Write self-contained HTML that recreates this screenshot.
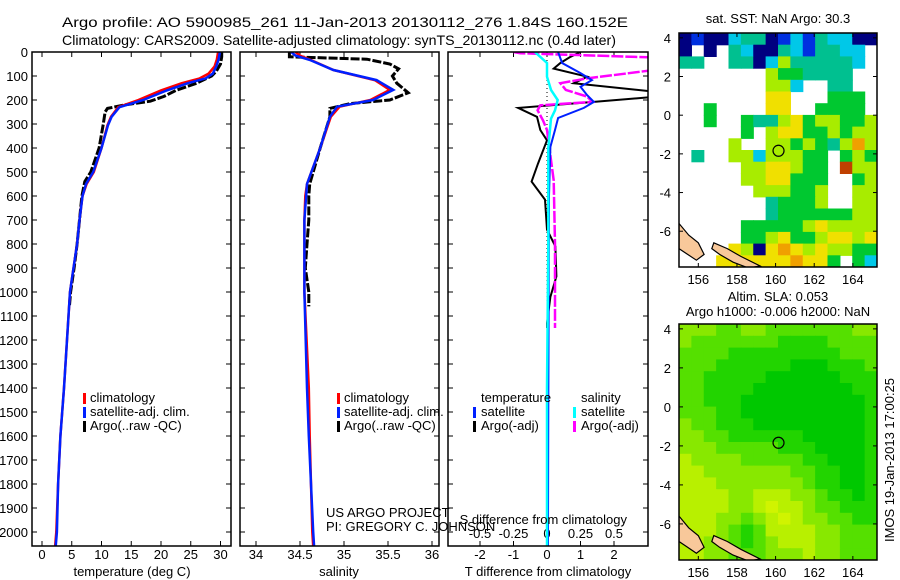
<!DOCTYPE html>
<html><head><meta charset="utf-8">
<style>
html,body{margin:0;padding:0;background:#fff;}
svg{display:block;font-family:"Liberation Sans",sans-serif;}
</style></head>
<body>
<svg id="chart" width="900" height="580" viewBox="0 0 900 580" xmlns="http://www.w3.org/2000/svg">
<text x="62" y="27" font-size="14" textLength="566" lengthAdjust="spacingAndGlyphs">Argo profile: AO 5900985_261 11-Jan-2013 20130112_276 1.84S 160.152E</text>
<text x="62" y="45" font-size="14" textLength="554" lengthAdjust="spacingAndGlyphs">Climatology: CARS2009. Satellite-adjusted climatology: synTS_20130112.nc (0.4d later)</text>
<g id="g"></g>
</svg>
<script>
// ---------- data ----------
const depthTicks=[0,100,200,300,400,500,600,700,800,900,1000,1100,1200,1300,1400,1500,1600,1700,1800,1900,2000];
const tTicks=[0,5,10,15,20,25,30];
const sTicks=[34,34.5,35,35.5,36];
const dTTicks=[-2,-1,0,1,2];
const dSTicks=[-0.5,-0.25,0,0.25,0.5];
const dSTickLabels=["-0.5","-0.25","0","0.25","0.5"];

const tSatDepth=[0,30,60,90,110,130,160,200,230,270,305,400,500,550,600,700,800,900,1000,1200,1400,1600,1800,2000,2060];
const tSatVal=[29.9,29.7,29.3,28.7,27.5,24.5,21,17,13,11.7,11.1,10,8.6,7.4,6.8,6.3,5.9,5.3,4.7,4.2,3.7,3.1,2.7,2.5,2.3];
const tClimDepth=[0,30,60,90,110,130,160,200,230,270,305,400,500,550,600,700,800,900,1000,1200,1400,1600,1800,2000,2060];
const tClimVal=[29.6,29.4,29.0,28.0,26.5,23.5,20,16.2,12.8,11.6,11.0,10,8.7,7.5,6.8,6.3,5.9,5.3,4.7,4.2,3.7,3.1,2.7,2.4,2.2];
const tArgoDepth=[0,20,50,80,100,130,160,185,205,220,235,250,300,400,500,540,600,700,800,900,1000,1060];
const tArgoVal=[30.2,30.2,30.0,29.3,28.5,26,22.5,20.5,18.2,14,11,10.6,10.3,9.6,8.2,7.2,6.7,6.3,5.9,5.4,4.8,4.6];

const sSatDepth=[0,15,33,75,117,158,200,228,270,400,500,550,700,1000,1400,1600,2000,2060];
const sSatVal=[34.4,34.45,34.61,34.88,35.37,35.56,35.33,34.92,34.84,34.73,34.63,34.58,34.55,34.55,34.58,34.6,34.65,34.66];
const sClimDepth=[0,15,33,75,117,158,200,228,270,400,500,550,600,700,1000,1400,1600,2000,2060];
const sClimVal=[34.45,34.5,34.62,34.88,35.35,35.52,35.3,34.95,34.85,34.73,34.63,34.58,34.56,34.55,34.55,34.6,34.61,34.64,34.65];
const sArgoDepth=[0,20,30,50,70,100,130,170,200,215,235,270,400,550,600,700,800,900,1000,1060];
const sArgoVal=[34.38,34.38,35.26,35.52,35.62,35.55,35.6,35.73,35.52,35.07,34.84,34.84,34.73,34.61,34.6,34.6,34.58,34.56,34.6,34.6];

const dTSatDepth=[0,46,88,117,145,180,208,233,275,325,395,600,1000,1500,2000,2060];
const dTSatVal=[0.33,0.45,1.0,1.34,1.0,1.2,1.4,1.1,0.33,0.24,0.1,0.06,0.05,0.04,0.03,0.03];
const dTArgoDepth=[0,20,46,69,103,130,165,187,208,233,270,325,368,465,540,615,740,810,935,1020,1130,1150];
const dTArgoVal=[1.0,0.7,0.4,0.2,1.2,0.8,3.2,3.2,1.4,-0.86,-0.3,-0.2,0,-0.27,-0.46,-0.06,0.0,0.25,0.28,0.1,0.0,0.0];
const dSSatDepth=[0,46,103,158,200,243,278,400,800,1400,2000,2060];
const dSSatVal=[-0.09,0,0,0.03,0.08,0.06,0.03,0.01,0.01,0.0,0.0,0.0];
const dSArgoDepth=[0,5,23,46,75,110,130,158,186,208,222,243,285,325,535,800,1000,1150];
const dSArgoVal=[-0.25,-0.2,0.8,0.8,0.8,0.3,0.1,0.14,0.3,0.34,-0.05,-0.07,-0.03,0,0.05,0.06,0.06,0.06];

const lonTicks=[156,158,160,162,164];
const sstLatTicks=[4,2,0,-2,-4,-6];
const argoLon=160.152, argoLat=-1.84;
const sstColors={N:"#000080",B:"#0030e0",C:"#00c8e8",T:"#00c090",G:"#00c830",L:"#a8ec00",Y:"#f0e000",O:"#f0a000",R:"#c04000"};
const sstGrid=[
"NBNNCTTNBCBTCCNN","NWNWTCNNTCBTTCCW","TTWWTTNCLTTTTTCW","WWWWWWWLGGTTTTWW","WWWWWWWLLCWWTTWW",
"WWWWWWWYYWWWGGGW","WWGWWWWYYWWGGGGW","WWGWWGTTLYGLLGGL","WWWWWGWLYYGGLGLL","WWWWLWWLLGLGTLOL",
"WTWWLLCLLLGGWGLG","WWWWWLLYYLGGWRLL","WWWWWLLYYGGGWWGL","WWWWWWLLLGGLWWLL","WWWWWWWTGGGLWWLL",
"WWWWWWWTGGGGGGLL","WWWWWGGGGGLYLLLL","WWWWWGGLYGGLYYLY","WWWWYLNYOYLYLLGG","WWWYYYYYYOYYGWGC"];
const slaColors=["#00c800","#22d400","#55e000","#88e800","#b8f000","#d0f400"];
const slaGrid=[
"3332233222222233","3222222211112222","2222111111111222","2221111110001112","2211111000000111",
"2211110000000011","2211100000000001","2221100000000001","3221110000000001","3322111111000001",
"3332222211100001","4333322222110001","4433333332211001","4443333333211001","4444334443321101",
"4444334544322111","4443323454332211","4443212444433222","4433212344433222","4433222333433222"];

// ---------- helpers ----------
const NS="http://www.w3.org/2000/svg";
const G=document.getElementById('g');
function el(t,a,p){const e=document.createElementNS(NS,t);for(const k in a)e.setAttribute(k,a[k]);(p||G).appendChild(e);return e;}
const yD=d=>52+d*0.24;
const P1={x0:32,x1:231}, P2={x0:240,x1:439}, P3={x0:448,x1:648};
const xT=v=>42+v*5.95;
const xS=v=>256+(v-34)*88;
const xDT=v=>547+v*33.5;
const xDS=v=>547+v*134;

function frame(P,name){
  const r=el('rect',{x:P.x0,y:52,width:P.x1-P.x0,height:494,fill:'none',stroke:'#000','stroke-width':1.5});
  
}
function clipFor(P,id){const c=el('clipPath',{id:id});el('rect',{x:P.x0,y:52,width:P.x1-P.x0,height:494},c);}
function line(xs,ds,fx,color,w,name,clip,dash){
  const pts=xs.map((v,i)=>fx(v).toFixed(1)+','+yD(ds[i]).toFixed(1)).join(' ');
  const a={points:pts,fill:'none',stroke:color,'stroke-width':w,'clip-path':'url(#'+clip+')'};
  if(dash)a['stroke-dasharray']=dash;
  const e=el('polyline',a);
  
  
}
function xticks(P,ticks,fx,labels,y,name){
  ticks.forEach((t,i)=>{
    const x=fx(t);
    el('line',{x1:x,y1:52,x2:x,y2:57,stroke:'#000'});
    el('line',{x1:x,y1:546,x2:x,y2:541,stroke:'#000'});
    const tx=el('text',{x:x,y:y,'font-size':13,'text-anchor':'middle'});
    tx.textContent=labels?labels[i]:String(t);
    
    
  });
}
function yticks(P){
  depthTicks.forEach(d=>{
    const y=yD(d);
    el('line',{x1:P.x0,y1:y,x2:P.x0+5,y2:y,stroke:'#000'});
    el('line',{x1:P.x1,y1:y,x2:P.x1-5,y2:y,stroke:'#000'});
  });
}
function txt(x,y,s,name,size,anchor){
  const t=el('text',{x:x,y:y,'font-size':size||13,'text-anchor':anchor||'start'});
  t.textContent=s;
  
  
  return t;
}
function legendMark(x,y,color,name){
  const r=el('rect',{x:x,y:y-9,width:3,height:11,fill:color});
  
  
}

// ---------- panel 1: temperature ----------
clipFor(P1,'c1');
depthTicks.forEach(d=>{txt(28,yD(d)+5,String(d),'depth-tick-label',13,'end');});
yticks(P1);
xticks(P1,tTicks,xT,null,559,'temperature-tick-label');
line(tArgoVal,tArgoDepth,xT,'#000',3,'temperature-argo-line','c1','9 2');
line(tClimVal,tClimDepth,xT,'#f00',2.5,'temperature-climatology-line','c1');
line(tSatVal,tSatDepth,xT,'#0020ff',2.5,'temperature-satellite-line','c1');
frame(P1,'temperature-panel');
txt(132,576,'temperature (deg C)','temperature-axis-title',13,'middle');
legendMark(83,402,'#f00','legend-climatology-mark');txt(90,402,'climatology','legend-climatology',13);
legendMark(83,416,'#0020ff','legend-satellite-mark');txt(90,416,'satellite-adj. clim.','legend-satellite',13);
legendMark(83,430,'#000','legend-argo-mark');txt(90,430,'Argo(..raw -QC)','legend-argo',13);

// ---------- panel 2: salinity ----------
clipFor(P2,'c2');
yticks(P2);
xticks(P2,sTicks,xS,null,559,'salinity-tick-label');
line(sArgoVal,sArgoDepth,xS,'#000',3,'salinity-argo-line','c2','9 2');
line(sClimVal,sClimDepth,xS,'#f00',2.5,'salinity-climatology-line','c2');
line(sSatVal,sSatDepth,xS,'#0020ff',2.5,'salinity-satellite-line','c2');
frame(P2,'salinity-panel');
txt(339,576,'salinity','salinity-axis-title',13,'middle');
legendMark(337,402,'#f00','legend-climatology-mark');txt(344,402,'climatology','legend-climatology',13);
legendMark(337,416,'#0020ff','legend-satellite-mark');txt(344,416,'satellite-adj. clim.','legend-satellite',13);
legendMark(337,430,'#000','legend-argo-mark');txt(344,430,'Argo(..raw -QC)','legend-argo',13);
txt(326,517,'US ARGO PROJECT','credit-project',13);
txt(326,531,'PI: GREGORY C. JOHNSON','credit-pi',13);

// ---------- panel 3: differences ----------
clipFor(P3,'c3');
yticks(P3);
xticks(P3,dTTicks,xDT,null,559,'t-diff-tick-label');
dSTicks.forEach((t,i)=>txt(xDS(t),538,dSTickLabels[i],'s-diff-tick-label',13,'middle'));
el('line',{x1:547,y1:52,x2:547,y2:546,stroke:'#000','stroke-dasharray':'1 3'});
line(dTArgoVal,dTArgoDepth,xDT,'#000',2,'t-diff-argo-line','c3');
line(dSArgoVal,dSArgoDepth,xDS,'#ff00ff',2.5,'s-diff-argo-line','c3','12 2');
line(dTSatVal,dTSatDepth,xDT,'#0020ff',2,'t-diff-satellite-line','c3');
line(dSSatVal,dSSatDepth,xDS,'#00ffff',2.5,'s-diff-satellite-line','c3');
frame(P3,'difference-panel');
txt(548,576,'T difference from climatology','t-diff-axis-title',13,'middle');
txt(627,524,'S difference from climatology','s-diff-axis-title',13,'end');
txt(481,402,'temperature','legend-temperature-header',13);
txt(581,402,'salinity','legend-salinity-header',13);
legendMark(473,416,'#0020ff','legend-t-satellite-mark');txt(481,416,'satellite','legend-t-satellite',13);
legendMark(473,430,'#000','legend-t-argo-mark');txt(481,430,'Argo(-adj)','legend-t-argo',13);
legendMark(573,416,'#00ffff','legend-s-satellite-mark');txt(581,416,'satellite','legend-s-satellite',13);
legendMark(573,430,'#ff00ff','legend-s-argo-mark');txt(581,430,'Argo(-adj)','legend-s-argo',13);

// ---------- maps ----------
function mapPanel(M,grid,colorFn,latTicks,name){
  const mx=v=>M.x0+(v-155)*(M.x1-M.x0)/(165.25-155);
  const my=v=>M.y0+(M.latTop-v)*(M.y1-M.y0)/(M.latTop-M.latBot);
  const rows=grid.length, cols=grid[0].length;
  const cw=(M.x1-M.x0)/cols, ch=(M.y1-M.y0)/rows;
  const clip=el('clipPath',{id:name+'-clip'});el('rect',{x:M.x0,y:M.y0,width:M.x1-M.x0,height:M.y1-M.y0},clip);
  const g=el('g',{'clip-path':'url(#'+name+'-clip)'});
  grid.forEach((row,r)=>{for(let c=0;c<cols;c++){const col=colorFn(row[c]);if(!col)continue;
    const e=el('rect',{x:(M.x0+c*cw).toFixed(2),y:(M.y0+r*ch).toFixed(2),width:(cw+0.6).toFixed(2),height:(ch+0.6).toFixed(2),fill:col},g);
    
    }});
  const land1=[[155,-5.6],[155.5,-6.2],[156,-6.6],[156.3,-7.2],[155.9,-7.5],[155.3,-7.1],[155,-6.9]];
  const land2=[[156.8,-6.6],[157.5,-6.9],[158.2,-7.3],[159.2,-7.8],[158.6,-7.9],[157.8,-7.6],[157.1,-7.2],[156.7,-6.9]];
  [land1,land2].forEach(L=>{const e=el('polygon',{points:L.map(p=>mx(p[0]).toFixed(1)+','+my(p[1]).toFixed(1)).join(' '),fill:'#f8c89a',stroke:'#000','stroke-width':1.2},g);
    });
  const dot=el('circle',{cx:mx(argoLon),cy:my(argoLat),r:5.5,fill:'none',stroke:'#000','stroke-width':1.2});
  
  const fr=el('rect',{x:M.x0,y:M.y0,width:M.x1-M.x0,height:M.y1-M.y0,fill:'none',stroke:'#000','stroke-width':1.5});
  
  lonTicks.forEach(v=>{const x=mx(v);el('line',{x1:x,y1:M.y0,x2:x,y2:M.y0+4,stroke:'#000'});el('line',{x1:x,y1:M.y1,x2:x,y2:M.y1-4,stroke:'#000'});
    txt(x,M.y1+17,String(v),'longitude-tick-label',13,'middle');});
  latTicks.forEach(v=>{const y=my(v);el('line',{x1:M.x0,y1:y,x2:M.x0+4,y2:y,stroke:'#000'});el('line',{x1:M.x1,y1:y,x2:M.x1-4,y2:y,stroke:'#000'});
    txt(M.x0-8,y+5,String(v),'latitude-tick-label',13,'end');});
}
mapPanel({x0:679,x1:877,y0:33,y1:267,latTop:4.25,latBot:-7.85},sstGrid,c=>c==='W'?null:sstColors[c],sstLatTicks,'sst-map');
mapPanel({x0:679,x1:877,y0:324,y1:560,latTop:4.25,latBot:-7.85},slaGrid,c=>slaColors[+c],[4,2,0,-2,-4,-6],'sla-map');
txt(778,23,'sat. SST: NaN Argo: 30.3','sst-map-title',13,'middle');
txt(778,301,'Altim. SLA: 0.053','sla-map-title-1',13,'middle');
txt(778,316,'Argo h1000: -0.006 h2000: NaN','sla-map-title-2',13,'middle');
const st=txt(0,0,'IMOS 19-Jan-2013 17:00:25','timestamp',13,'middle');
st.setAttribute('transform','translate(894,460) rotate(-90)');
</script>
</body></html>
